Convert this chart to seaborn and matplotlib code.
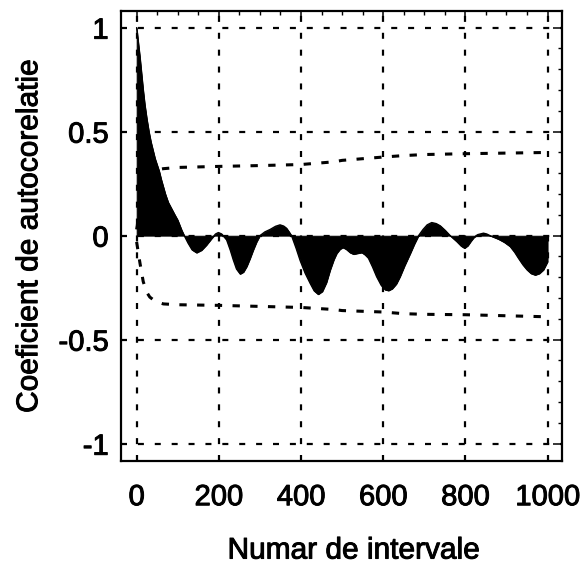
import matplotlib
matplotlib.use("Agg")
import matplotlib.pyplot as plt
import matplotlib.patheffects as pe
import seaborn as sns
import pandas as pd
from matplotlib.ticker import MultipleLocator

# Sample autocorrelation by lag
lags = [0, 4, 8, 12, 16, 20, 25, 30, 35, 40, 45, 50, 55, 60, 65, 70, 77, 85, 93, 100,
        105, 110, 116, 125, 135, 146, 158, 170, 182, 192, 199, 207, 219, 228, 235, 243,
        252, 260, 268, 276, 284, 292, 300, 312, 325, 338, 349, 358, 365, 371, 377, 388,
        398, 410, 422, 432, 442, 452, 462, 471, 480, 487, 495, 502, 510, 520, 528, 538,
        548, 556, 564, 574, 584, 595, 605, 613, 622, 632, 641, 652, 666, 676, 686, 697,
        707, 718, 729, 739, 751, 763, 779, 790, 798, 806, 813, 820, 830, 844, 852, 860,
        870, 881, 895, 909, 920, 929, 940, 950, 960, 970, 980, 990, 1000]
acf = [1.00, 0.93, 0.86, 0.78, 0.70, 0.63, 0.56, 0.50, 0.45, 0.41, 0.37, 0.34, 0.31, 0.27,
       0.235, 0.20, 0.16, 0.13, 0.10, 0.075, 0.05, 0.025, 0.0, -0.035, -0.068, -0.082,
       -0.07, -0.045, -0.015, 0.008, 0.015, 0.008, -0.02, -0.07, -0.115, -0.16, -0.184,
       -0.175, -0.148, -0.11, -0.068, -0.03, 0.0, 0.018, 0.03, 0.045, 0.052, 0.046, 0.035,
       0.018, 0.0, -0.06, -0.12, -0.18, -0.228, -0.265, -0.282, -0.268, -0.225, -0.165,
       -0.115, -0.085, -0.065, -0.057, -0.065, -0.082, -0.089, -0.085, -0.081, -0.092,
       -0.108, -0.15, -0.197, -0.238, -0.26, -0.264, -0.255, -0.232, -0.197, -0.145,
       -0.085, -0.04, 0.0, 0.03, 0.052, 0.063, 0.058, 0.047, 0.025, 0.0, -0.028, -0.05,
       -0.06, -0.048, -0.028, -0.01, 0.005, 0.012, 0.008, 0.0, -0.008, -0.017, -0.032,
       -0.052, -0.08, -0.108, -0.14, -0.164, -0.182, -0.189, -0.182, -0.164, -0.125]

# Confidence limits
bound_lags = [0, 8, 16, 24, 32, 45, 65, 100, 200, 300, 400, 480, 500, 600, 650, 700,
              800, 900, 1000]
upper_bound = [0.03, 0.13, 0.22, 0.27, 0.295, 0.315, 0.322, 0.328, 0.333, 0.337, 0.342,
               0.355, 0.362, 0.378, 0.385, 0.39, 0.394, 0.397, 0.40]
lower_bound = [-0.03, -0.13, -0.22, -0.27, -0.295, -0.315, -0.328, -0.332, -0.335,
               -0.34, -0.345, -0.355, -0.36, -0.367, -0.375, -0.378, -0.38, -0.385, -0.39]

x_ticks = [0, 200, 400, 600, 800, 1000]
y_ticks = [-1, -0.5, 0, 0.5, 1]
y_tick_labels = ["-1", "-0.5", "0", "0.5", "1"]

sns.set_style("white")
plt.rcParams["font.family"] = ["Liberation Sans", "DejaVu Sans"]

acf_df = pd.DataFrame({"lag": lags, "acf": acf})
bounds_df = pd.DataFrame({"lag": bound_lags, "upper": upper_bound, "lower": lower_bound})

fig = plt.figure(figsize=(5.82, 5.67), dpi=100)
ax = fig.add_axes([0.2079, 0.187, 0.7577, 0.7936])

# dashed grid at the major ticks
grid_dash = (0, (2.7, 4.9))
for xv in x_ticks:
    ax.axvline(xv, color="black", lw=1.6, ls=grid_dash, zorder=1)
for yv in y_ticks:
    ax.axhline(yv, color="black", lw=1.6, ls=grid_dash, zorder=1)

bound_dash = (0, (2.4, 3.4))
sns.lineplot(data=bounds_df, x="lag", y="upper", ax=ax, color="black", lw=2.2,
             linestyle=bound_dash, zorder=2)
sns.lineplot(data=bounds_df, x="lag", y="lower", ax=ax, color="black", lw=2.2,
             linestyle=bound_dash, zorder=2)

ax.fill_between(acf_df["lag"], 0, acf_df["acf"], facecolor="black",
                edgecolor="black", lw=0.6, zorder=3)
sns.lineplot(data=acf_df, x="lag", y="acf", ax=ax, color="black", lw=1.0, zorder=4)

ax.set_xlim(-38, 1035)
ax.set_ylim(-1.083, 1.08)
ax.set_xticks(x_ticks)
ax.set_xticklabels([str(v) for v in x_ticks])
ax.set_yticks(y_ticks)
ax.set_yticklabels(y_tick_labels)
ax.xaxis.set_minor_locator(MultipleLocator(50))
ax.yaxis.set_minor_locator(MultipleLocator(0.1))
ax.tick_params(which="both", direction="in", top=True, right=True, color="black")
ax.tick_params(which="major", length=6.5, width=1.1)
ax.tick_params(which="minor", length=3, width=1.0)
ax.tick_params(axis="x", which="major", labelsize=21, pad=16)
ax.tick_params(axis="y", which="major", labelsize=21, pad=9)

for sp in ax.spines.values():
    sp.set_color("black")
    sp.set_linewidth(1.6)

ax.set_xlabel("Numar de intervale", fontsize=21.5)
ax.set_ylabel("Coeficient de autocorelatie", fontsize=21.5, labelpad=11)
ax.xaxis.set_label_coords(0.528, -0.168, transform=ax.transAxes)
ax.xaxis.label.set_verticalalignment("top")

# slightly heavier glyph strokes for all text
heavy = [pe.withStroke(linewidth=0.7, foreground="black")]
for t in ax.get_xticklabels() + ax.get_yticklabels() + [ax.xaxis.label, ax.yaxis.label]:
    t.set_color("black")
    t.set_path_effects(heavy)

fig.savefig("out.png", dpi=100, facecolor="white")
